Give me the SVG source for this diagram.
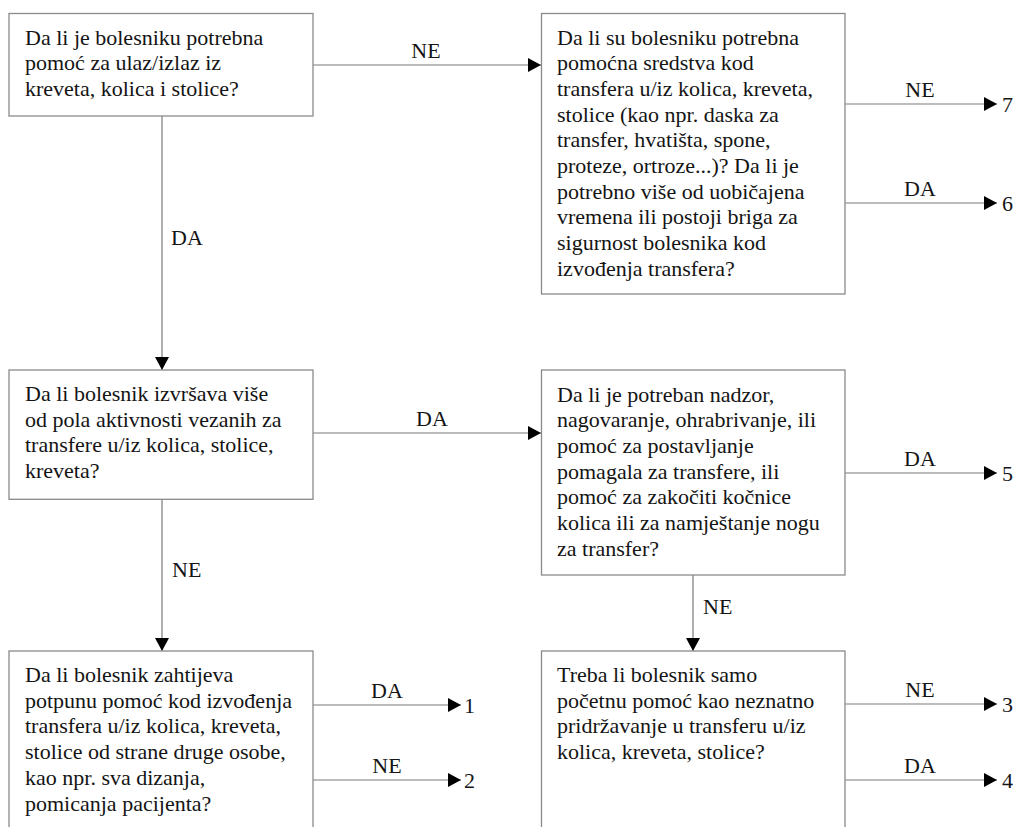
<svg xmlns="http://www.w3.org/2000/svg" width="1017" height="827" viewBox="0 0 1017 827">
<style>
.box{fill:#fff;stroke:#8a8a8a;stroke-width:1.3}
.t{font-family:'Liberation Serif','Times New Roman',serif;font-size:22px;fill:#141414}
.c{fill:none;stroke:#7a7a7a;stroke-width:1.2}
.m{text-anchor:middle}
</style>
<defs>
<marker id="ah" viewBox="0 0 13 14" refX="13" refY="7" markerWidth="13" markerHeight="14" markerUnits="userSpaceOnUse" orient="auto">
<path d="M0,0 L13,7 L0,14 z" fill="#000"/>
</marker>
</defs>
<rect width="1017" height="827" fill="#fff"/>

<g id="connectors">
<line class="c" x1="313" y1="65" x2="541" y2="65" marker-end="url(#ah)"/>
<text class="t m" x="426" y="58">NE</text>
<line class="c" x1="162" y1="116" x2="162" y2="370" marker-end="url(#ah)"/>
<text class="t" x="171" y="245">DA</text>
<line class="c" x1="313" y1="433" x2="541" y2="433" marker-end="url(#ah)"/>
<text class="t m" x="432" y="426">DA</text>
<line class="c" x1="162" y1="499" x2="162" y2="651" marker-end="url(#ah)"/>
<text class="t" x="172" y="577">NE</text>
<line class="c" x1="693" y1="575" x2="693" y2="651" marker-end="url(#ah)"/>
<text class="t" x="703" y="614">NE</text>

<line class="c" x1="845" y1="104" x2="997" y2="104" marker-end="url(#ah)"/>
<text class="t m" x="920" y="97">NE</text>
<text class="t" x="1002" y="112">7</text>
<line class="c" x1="845" y1="203" x2="997" y2="203" marker-end="url(#ah)"/>
<text class="t m" x="920" y="196">DA</text>
<text class="t" x="1002" y="211">6</text>

<line class="c" x1="845" y1="473" x2="997" y2="473" marker-end="url(#ah)"/>
<text class="t m" x="920" y="466">DA</text>
<text class="t" x="1002" y="481">5</text>

<line class="c" x1="845" y1="704" x2="997" y2="704" marker-end="url(#ah)"/>
<text class="t m" x="920" y="697">NE</text>
<text class="t" x="1002" y="712">3</text>
<line class="c" x1="845" y1="780" x2="997" y2="780" marker-end="url(#ah)"/>
<text class="t m" x="920" y="773">DA</text>
<text class="t" x="1002" y="788">4</text>

<line class="c" x1="313" y1="705" x2="461" y2="705" marker-end="url(#ah)"/>
<text class="t m" x="387" y="698">DA</text>
<text class="t" x="464" y="713">1</text>
<line class="c" x1="313" y1="780" x2="461" y2="780" marker-end="url(#ah)"/>
<text class="t m" x="387" y="773">NE</text>
<text class="t" x="464" y="788">2</text>
</g>

<g id="n1">
<rect class="box" x="9" y="13.5" width="304" height="102.5"/>
<text class="t" x="25" y="44.5">
<tspan x="25">Da li je bolesniku potrebna</tspan>
<tspan x="25" dy="25.7">pomoć za ulaz/izlaz iz</tspan>
<tspan x="25" dy="25.7">kreveta, kolica i stolice?</tspan>
</text>
</g>

<g id="n2">
<rect class="box" x="541.5" y="13.5" width="303.5" height="280.5"/>
<text class="t" x="557" y="44.5">
<tspan x="557">Da li su bolesniku potrebna</tspan>
<tspan x="557" dy="25.7">pomoćna sredstva kod</tspan>
<tspan x="557" dy="25.7">transfera u/iz kolica, kreveta,</tspan>
<tspan x="557" dy="25.7">stolice (kao npr. daska za</tspan>
<tspan x="557" dy="25.7">transfer, hvatišta, spone,</tspan>
<tspan x="557" dy="25.7">proteze, ortroze...)? Da li je</tspan>
<tspan x="557" dy="25.7">potrebno više od uobičajena</tspan>
<tspan x="557" dy="25.7">vremena ili postoji briga za</tspan>
<tspan x="557" dy="25.7">sigurnost bolesnika kod</tspan>
<tspan x="557" dy="25.7">izvođenja transfera?</tspan>
</text>
</g>

<g id="n3">
<rect class="box" x="9" y="370" width="304" height="129.3"/>
<text class="t" x="25" y="401">
<tspan x="25">Da li bolesnik izvršava više</tspan>
<tspan x="25" dy="25.7">od pola aktivnosti vezanih za</tspan>
<tspan x="25" dy="25.7">transfere u/iz kolica, stolice,</tspan>
<tspan x="25" dy="25.7">kreveta?</tspan>
</text>
</g>

<g id="n4">
<rect class="box" x="541.5" y="370" width="303.5" height="205"/>
<text class="t" x="557" y="401.5">
<tspan x="557">Da li je potreban nadzor,</tspan>
<tspan x="557" dy="25.7">nagovaranje, ohrabrivanje, ili</tspan>
<tspan x="557" dy="25.7">pomoć za postavljanje</tspan>
<tspan x="557" dy="25.7">pomagala za transfere, ili</tspan>
<tspan x="557" dy="25.7">pomoć za zakočiti kočnice</tspan>
<tspan x="557" dy="25.7">kolica ili za namještanje nogu</tspan>
<tspan x="557" dy="25.7">za transfer?</tspan>
</text>
</g>

<g id="n5">
<rect class="box" x="9" y="651" width="304" height="200"/>
<text class="t" x="25" y="682">
<tspan x="25">Da li bolesnik zahtijeva</tspan>
<tspan x="25" dy="25.7">potpunu pomoć kod izvođenja</tspan>
<tspan x="25" dy="25.7">transfera u/iz kolica, kreveta,</tspan>
<tspan x="25" dy="25.7">stolice od strane druge osobe,</tspan>
<tspan x="25" dy="25.7">kao npr. sva dizanja,</tspan>
<tspan x="25" dy="25.7">pomicanja pacijenta?</tspan>
</text>
</g>

<g id="n6">
<rect class="box" x="541.5" y="651" width="303.5" height="200"/>
<text class="t" x="557" y="682">
<tspan x="557">Treba li bolesnik samo</tspan>
<tspan x="557" dy="25.7">početnu pomoć kao neznatno</tspan>
<tspan x="557" dy="25.7">pridržavanje u transferu u/iz</tspan>
<tspan x="557" dy="25.7">kolica, kreveta, stolice?</tspan>
</text>
</g>
</svg>
